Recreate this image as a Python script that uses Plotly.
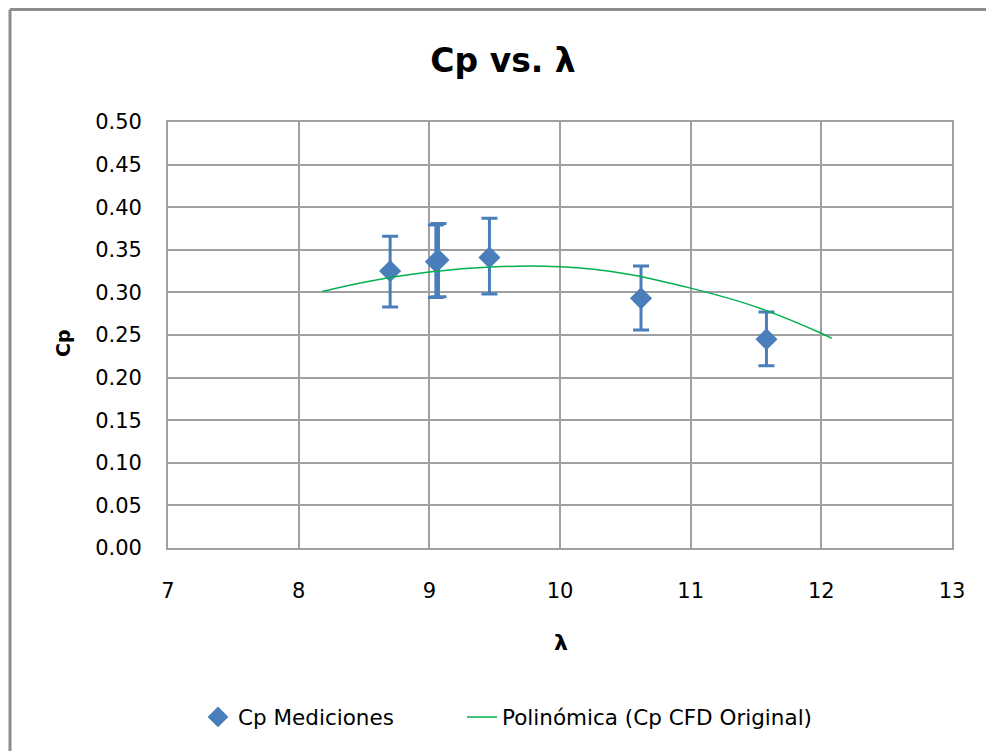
import plotly.graph_objects as go

# Measured data
lam_meas = [8.70, 9.05, 9.07, 9.46, 10.62, 11.58]
cp_meas = [0.325, 0.336, 0.338, 0.341, 0.293, 0.245]
err_plus = [0.041, 0.043, 0.043, 0.046, 0.038, 0.032]
err_minus = [0.042, 0.042, 0.043, 0.043, 0.037, 0.031]

# Polynomial trendline
lam_fit = [8.18, 8.5, 9.0, 9.5, 10.0, 10.5, 11.0, 11.5, 12.0, 12.08]
cp_fit = [0.301, 0.312, 0.324, 0.330, 0.330, 0.322, 0.305, 0.283, 0.252, 0.246]

x_ticks = [7, 8, 9, 10, 11, 12, 13]
y_ticks = [i * 0.05 for i in range(11)]

BLUE = "#4a7ebb"
GREEN = "#00b050"
GRID = "#a0a0a0"
FONT = "'DejaVu Sans', sans-serif"

W, H = 986, 743
L, R, T, B = 160, 42, 114, 203
PW, PH = W - L - R, H - T - B


def px(x):
    return (x - L) / PW


def py(y):
    return (H - B - y) / PH


fig = go.Figure()
fig.add_trace(go.Scatter(
    x=lam_meas, y=cp_meas, mode="markers", name="Cp Mediciones",
    marker=dict(symbol="diamond", size=17, color=BLUE),
    error_y=dict(type="data", symmetric=False, array=err_plus, arrayminus=err_minus,
                 color=BLUE, thickness=3, width=8),
    legend="legend",
))
fig.add_trace(go.Scatter(
    x=lam_fit, y=cp_fit, mode="lines", name="Polinómica (Cp CFD Original)",
    line=dict(color=GREEN, width=1.5, shape="spline"),
    legend="legend2",
))

fig.update_layout(
    width=W, height=H,
    paper_bgcolor="white", plot_bgcolor="white",
    margin=dict(l=L, r=R, t=T, b=B),
    font=dict(family=FONT, size=21, color="#000000"),
    title=dict(text="<b>Cp vs. λ</b>", x=495 / W, xref="container", xanchor="center",
               y=1 - 52 / H, yref="container", yanchor="middle",
               font=dict(size=33, family=FONT)),
    xaxis=dict(range=[7, 13], tickvals=x_ticks, ticktext=[str(v) for v in x_ticks],
               showgrid=True, gridcolor=GRID, gridwidth=1.8, zeroline=False,
               showline=True, linecolor=GRID, linewidth=1.8, mirror=True,
               ticks="", ticklen=0, ticklabelstandoff=23,
               tickfont=dict(size=21)),
    yaxis=dict(range=[0, 0.5], tickvals=y_ticks, ticktext=[f"{v:.2f}" for v in y_ticks],
               showgrid=True, gridcolor=GRID, gridwidth=1.8, zeroline=False,
               showline=True, linecolor=GRID, linewidth=1.8, mirror=True,
               ticks="", ticklen=0, ticklabelstandoff=20,
               tickfont=dict(size=21)),
    legend=dict(orientation="h", x=px(190), xanchor="left", y=py(709), yanchor="middle",
                font=dict(size=21.5), bgcolor="rgba(0,0,0,0)"),
    legend2=dict(orientation="h", x=px(454), xanchor="left", y=py(709), yanchor="middle",
                 font=dict(size=21.5), bgcolor="rgba(0,0,0,0)"),
    showlegend=True,
)

# axis titles
fig.add_annotation(text="<b>Cp</b>", xref="paper", yref="paper", x=px(55), y=py(335),
                   textangle=-90, showarrow=False, font=dict(size=19, family=FONT),
                   xanchor="center", yanchor="middle")
fig.add_annotation(text="<b>λ</b>", xref="paper", yref="paper", x=px(553), y=py(634),
                   showarrow=False, font=dict(size=22, family=FONT),
                   xanchor="center", yanchor="middle")

# outer chart-area frame (left and top edges visible)
fig.add_shape(type="line", xref="paper", yref="paper",
              x0=px(2), x1=px(W), y0=py(1.5), y1=py(1.5),
              line=dict(color="#8c8c8c", width=3))
fig.add_shape(type="line", xref="paper", yref="paper",
              x0=px(2), x1=px(2), y0=py(1.5), y1=py(H),
              line=dict(color="#8c8c8c", width=3))

fig.write_html("out.html")
